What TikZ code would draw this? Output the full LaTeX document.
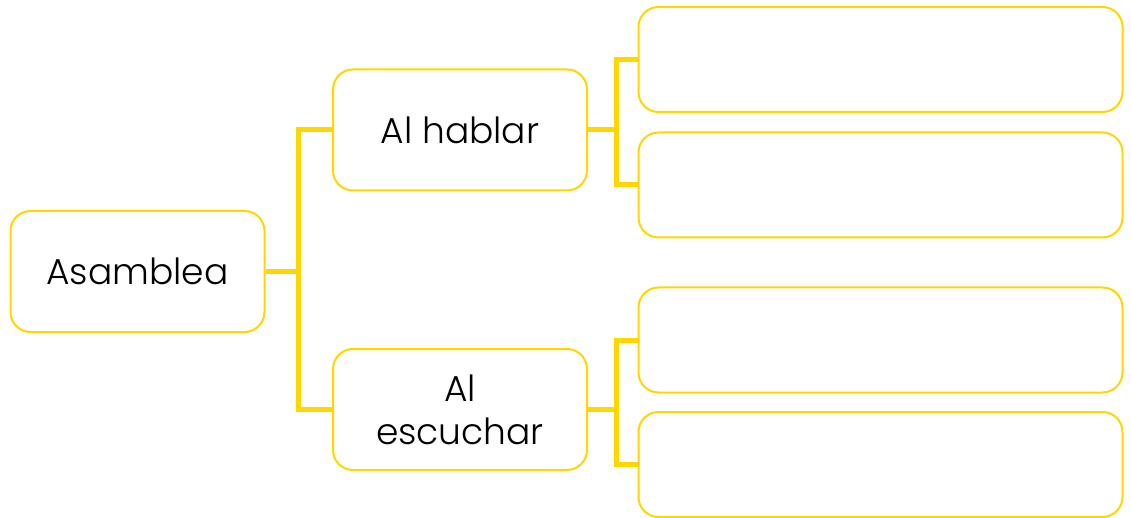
\documentclass[tikz,border=0pt]{standalone}
\usepackage{fontspec}
\setmainfont{Poppins Light}
\definecolor{oro}{HTML}{FFD700}

\begin{document}
\begin{tikzpicture}[x=1pt,y=-1pt,
        caja/.style={draw=oro, line width=2pt, rounded corners=20pt, fill=white,
            inner sep=0pt, align=center, font=\fontsize{36}{43}\selectfont},
        hoja/.style={caja, minimum width=484pt, minimum height=105pt},
        rama/.style={draw=oro, line width=5pt}]
        \useasboundingbox (0,0) rectangle (1131,518);

        % cajas principales
        \node[caja, minimum width=254pt, minimum height=121pt] (asamblea) at (137.5,271.5) {Asamblea};
        \node[caja, minimum width=254pt, minimum height=121pt] (hablar) at (460,130) {Al hablar};
        \node[caja, minimum width=254pt, minimum height=121pt] (escuchar) at (460,409.5) {Al\\escuchar};

        % cajas vacias
        \node[hoja] (hablarA) at (880.5,59.5) {};
        \node[hoja] (hablarB) at (880.5,185) {};
        \node[hoja] (escucharA) at (880.5,340) {};
        \node[hoja] (escucharB) at (880.5,464.5) {};

        % ramas
        \draw[rama] (asamblea.east) -- ++(33,0) |- (hablar.west);
        \draw[rama] (asamblea.east) -- ++(33,0) |- (escuchar.west);
        \draw[rama] (hablar.east) -- ++(28,0) |- (hablarA.west);
        \draw[rama] (hablar.east) -- ++(28,0) |- (hablarB.west);
        \draw[rama] (escuchar.east) -- ++(28,0) |- (escucharA.west);
        \draw[rama] (escuchar.east) -- ++(28,0) |- (escucharB.west);
    \end{tikzpicture}
\end{document}
